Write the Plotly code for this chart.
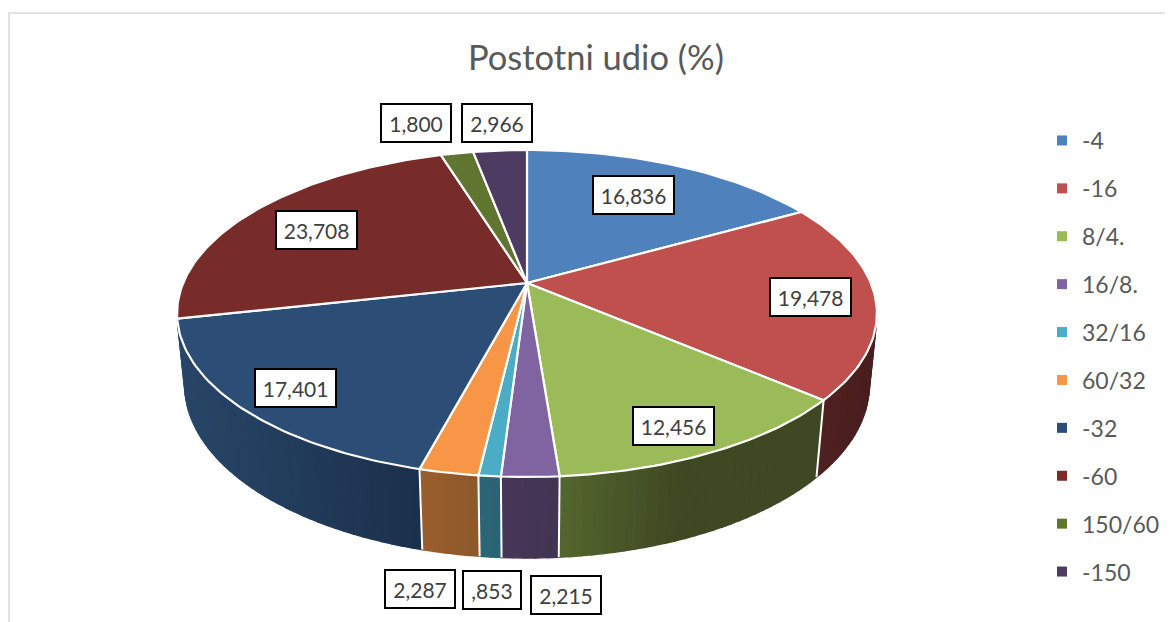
import math
import plotly.graph_objects as go

# --- data -------------------------------------------------------------
categories = ["-4", "-16", "8/4.", "16/8.", "32/16", "60/32", "-32", "-60", "150/60", "-150"]
shares = [16.836, 19.478, 12.456, 2.215, 0.853, 2.287, 17.401, 23.708, 1.800, 2.966]
top_colors = ["#4F81BD", "#C0504D", "#9BBB59", "#8064A2", "#4BACC6",
              "#F79646", "#2C4D75", "#772C2A", "#5F7530", "#4D3B62"]
# side wall shade, left end and right end of each slice's wall
side_left = ["#2F4D71", "#4F2020", "#54662F", "#483659", "#2D6677",
             "#9A5E2E", "#284668", "#47201F", "#3A461D", "#2E233B"]
side_right = ["#2F4D71", "#4A1E1E", "#3E4822", "#433452", "#2A6173",
              "#8C5828", "#1B304C", "#47201F", "#3A461D", "#2E233B"]
# share of a wall's width over which its shade changes
gradient_span = [1, 1, 0.45, 1, 1, 1, 1, 1, 1, 1]
title_text = "Postotni udio (%)"

# --- label boxes: centre in page pixels -------------------------------
label_centres = [(633, 195), (810, 297), (673, 426), (566, 595), (492, 590),
                 (420, 589), (295, 388), (316, 230), (416, 123), (497, 123)]

# --- page offset: the browser page has an 8 px body margin ------------
PAGE_W, PAGE_H, BODY = 1173, 622, 8

# --- projection of the tilted disc ------------------------------------
CX, CY = 527.0, 283.0
RX, RY = 343.8, 157.8
PERSP = 0.1865
BOTTOM_W = 0.0216
DEPTH = 71.8


def top_pt(a):
    u, v = math.sin(a), math.cos(a)
    w = 1 + PERSP * v
    return CX + RX * u / w, CY - RY * v / w


def bottom_pt(a):
    u, v = math.sin(a), math.cos(a)
    w = 1 + PERSP * v + BOTTOM_W
    return CX + RX * u / w, CY + (DEPTH - RY * v) / w


def hex_rgb(h):
    return [int(h[i:i + 2], 16) for i in (1, 3, 5)]


def mix(a, b, t):
    ca, cb = hex_rgb(a), hex_rgb(b)
    return "rgb(%d,%d,%d)" % tuple(round(x + (y - x) * t) for x, y in zip(ca, cb))


def fmt(v):
    s = f"{v:.3f}".replace(".", ",")
    return s[1:] if s.startswith("0,") else s


fig = go.Figure()
total = sum(shares)
edges = [0.0]
for s in shares:
    edges.append(edges[-1] + s / total * 2 * math.pi)

# side walls: thin quads, only on the part of the rim that faces the viewer
FRONT_START, FRONT_END = math.radians(102.5), math.radians(257.4)
STEP = math.radians(1.5)
for i in range(len(shares)):
    a0, a1 = max(edges[i], FRONT_START), min(edges[i + 1], FRONT_END)
    if a1 <= a0:
        continue
    n = max(1, int((a1 - a0) / STEP))
    xs0, xs1 = top_pt(a0)[0], top_pt(a1)[0]
    for k in range(n):
        b0 = a0 + (a1 - a0) * k / n
        b1 = a0 + (a1 - a0) * (k + 1) / n
        p = [top_pt(b0), top_pt(b1), bottom_pt(b1), bottom_pt(b0), top_pt(b0)]
        xm = (p[0][0] + p[1][0]) / 2
        t = (xm - min(xs0, xs1)) / max(abs(xs1 - xs0), 1e-6)
        t = min(1.0, t / gradient_span[i])
        col = mix(side_left[i], side_right[i], t)
        fig.add_trace(go.Scatter(x=[q[0] for q in p], y=[q[1] for q in p], mode="lines",
                                 fill="toself", fillcolor=col, line=dict(color=col, width=1.5),
                                 hoverinfo="skip", showlegend=False))

# white seams between walls
for e in edges:
    if FRONT_START < e < FRONT_END:
        t, b = top_pt(e), bottom_pt(e)
        fig.add_trace(go.Scatter(x=[t[0], b[0]], y=[t[1], b[1]], mode="lines",
                                 line=dict(color="white", width=2),
                                 hoverinfo="skip", showlegend=False))

# top faces
for i, name in enumerate(categories):
    n = max(2, int((edges[i + 1] - edges[i]) / math.radians(1)))
    arc = [top_pt(edges[i] + (edges[i + 1] - edges[i]) * k / n) for k in range(n + 1)]
    pts = [(CX, CY)] + arc + [(CX, CY)]
    fig.add_trace(go.Scatter(x=[p[0] for p in pts], y=[p[1] for p in pts], mode="lines",
                             fill="toself", fillcolor=top_colors[i],
                             line=dict(color="white", width=2.2),
                             name=name, hoverinfo="name", showlegend=False))

# legend entries
for i, name in enumerate(categories):
    fig.add_trace(go.Scatter(x=[None], y=[None], mode="markers", name=name,
                             legendgroup=name,
                             marker=dict(symbol="square", size=10, color=top_colors[i])))

annotations = []
for v, (x, y) in zip(shares, label_centres):
    txt = fmt(v)
    annotations.append(dict(x=x, y=y, xref="x", yref="y", text=txt, showarrow=False,
                            font=dict(family="Lato", size=21, color="#404040"),
                            bgcolor="white", bordercolor="black", borderwidth=2,
                            width=(11.2 * len(txt) + 6) if len(txt) > 4 else 50,
                            height=30, borderpad=3, align="center", valign="middle"))
annotations.append(dict(x=596, y=56.5, xref="x", yref="y", text=title_text, showarrow=False,
                        font=dict(family="Lato", size=34.5, color="#595959")))

frame = dict(type="path", path="M 9 622 L 9 13 L 1173 13", xref="x", yref="y",
             line=dict(color="#D9D9D9", width=1.5))

plot_w, plot_h = PAGE_W - BODY, PAGE_H - BODY
fig.update_layout(
    width=plot_w, height=plot_h, margin=dict(l=0, r=0, t=0, b=0),
    paper_bgcolor="white", plot_bgcolor="white",
    xaxis=dict(range=[BODY, PAGE_W], visible=False, fixedrange=True),
    yaxis=dict(range=[PAGE_H, BODY], visible=False, fixedrange=True),
    shapes=[frame], annotations=annotations,
    legend=dict(x=(1042 - BODY) / plot_w, y=1 - (119 - BODY) / plot_h, xanchor="left", yanchor="top",
                font=dict(family="Lato", size=23, color="#595959"),
                tracegroupgap=15, itemwidth=30, bgcolor="rgba(0,0,0,0)"),
    showlegend=True,
)
fig.write_html("out.html")
